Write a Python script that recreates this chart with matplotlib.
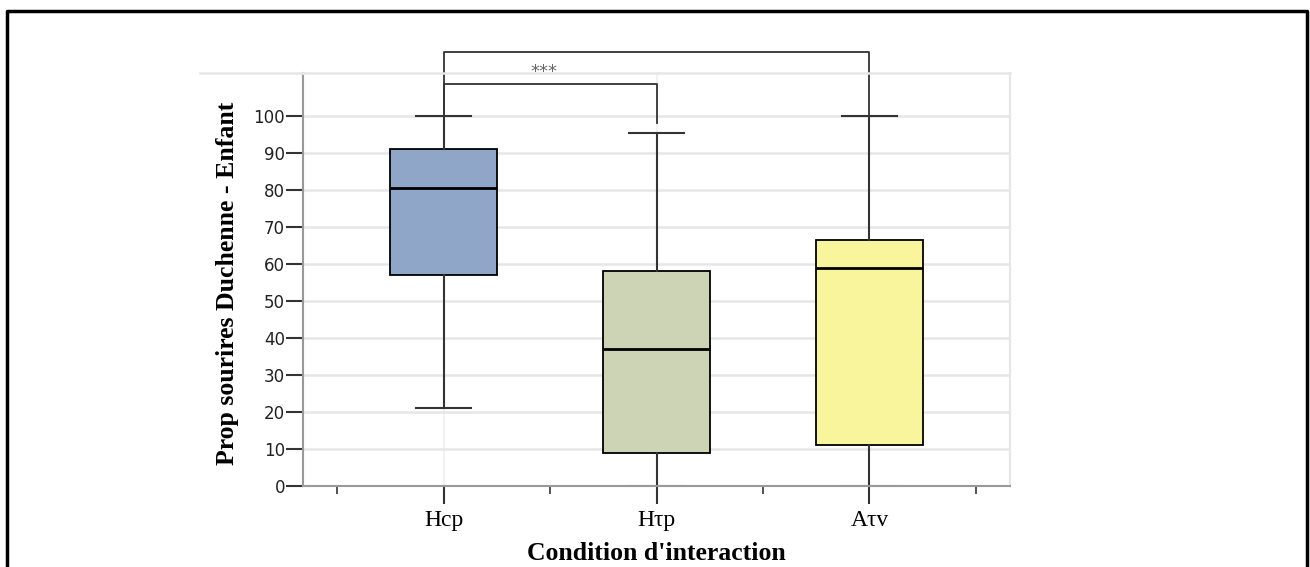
import matplotlib
matplotlib.use("Agg")
from matplotlib import pyplot as plt
from matplotlib.lines import Line2D

# box statistics
categories = ["Hcp", "Hτp", "Aτv"]
whislo = [21, 0, 0]
q1 = [57, 9, 11]
med = [80.5, 37, 59]
q3 = [91, 58, 66.5]
whishi = [100, 95.5, 100]
box_colors = ["#8fa6c9", "#cdd4b6", "#f8f59c"]
yticks = list(range(0, 101, 10))

plt.rcParams.update({"font.family": "serif", "font.serif": ["Liberation Serif", "DejaVu Serif"]})

fig = plt.figure(figsize=(13.1, 5.67), dpi=100)
W, H = 1310, 567
ax = fig.add_axes([303 / W, 1 - 486 / H, (1010 - 303) / W, (486 - 73) / H])

stats = []
for i, name in enumerate(categories):
    stats.append({"label": name, "whislo": whislo[i], "q1": q1[i], "med": med[i],
                  "q3": q3[i], "whishi": whishi[i], "fliers": []})

bp = ax.bxp(stats, positions=range(len(categories)), widths=0.5, patch_artist=True,
            showfliers=False,
            boxprops=dict(edgecolor="black", linewidth=1.3),
            medianprops=dict(color="black", linewidth=2),
            whiskerprops=dict(color="#333333", linewidth=1.5),
            capprops=dict(color="#333333", linewidth=1.5),
            capwidths=0.26)
for patch, c in zip(bp["boxes"], box_colors):
    patch.set_facecolor(c)
for cap in bp["caps"]:
    if cap.get_ydata()[0] == 0:
        cap.set_color("#999999")

ax.set_xlim(-0.66, 2.66)
ax.set_ylim(0, 111.6)
ax.set_yticks(yticks)
ax.set_yticklabels([str(v) for v in yticks], family="DejaVu Sans", fontsize=12, color="#222222")
ax.set_xticks(range(len(categories)))
ax.set_xticklabels(categories, fontsize=17)
ax.set_xticks([-0.5, 0.5, 1.5, 2.5], minor=True)
ax.tick_params(axis="y", direction="out", length=12, width=1.5, color="#333333", pad=1)
ax.tick_params(axis="x", which="major", direction="out", length=13, width=1.5, color="#333333", pad=4)
ax.tick_params(axis="x", which="minor", direction="out", length=6, width=1.2, color="#333333")

ax.grid(axis="y", color="#e6e6e6", linewidth=1.8)
ax.grid(axis="x", which="major", color="#efefef", linewidth=1.2)
ax.set_axisbelow(True)
for s in ["left", "bottom"]:
    ax.spines[s].set_color("#999999")
    ax.spines[s].set_linewidth(1.5)
ax.spines["top"].set_color("#e6e6e6")
ax.spines["top"].set_linewidth(1.8)
ax.spines["right"].set_color("#e6e6e6")
ax.spines["right"].set_linewidth(1.5)

ax.set_ylabel("Prop sourires Duchenne - Enfant", fontsize=18.5, fontweight="bold")
ax.yaxis.set_label_coords(-0.09, 0.49)
ax.set_xlabel("Condition d'interaction", fontsize=18.5, fontweight="bold", labelpad=8)

# significance brackets
ax.plot([0, 0, 2, 2], [100, 117.3, 117.3, 100], color="#333333", linewidth=1.3, clip_on=False)
ax.plot([0, 0, 1, 1], [100, 108.6, 108.6, 98.1], color="#333333", linewidth=1.3, clip_on=False)
ax.text(0.47, 112, "***", ha="center", va="center", fontsize=13, color="#666666", family="DejaVu Sans")

# top grid line running left of the axis, as in the picture
fig.add_artist(Line2D([200 / W, 303 / W], [1 - 73 / H, 1 - 73 / H], color="#e6e6e6", linewidth=1.8))

# outer frame
fig.add_artist(Line2D([7 / W, 7 / W, 1307 / W, 1307 / W], [0, 1 - 11 / H, 1 - 11 / H, 0],
                      color="black", linewidth=2.5))

fig.savefig("out.png", dpi=100)
